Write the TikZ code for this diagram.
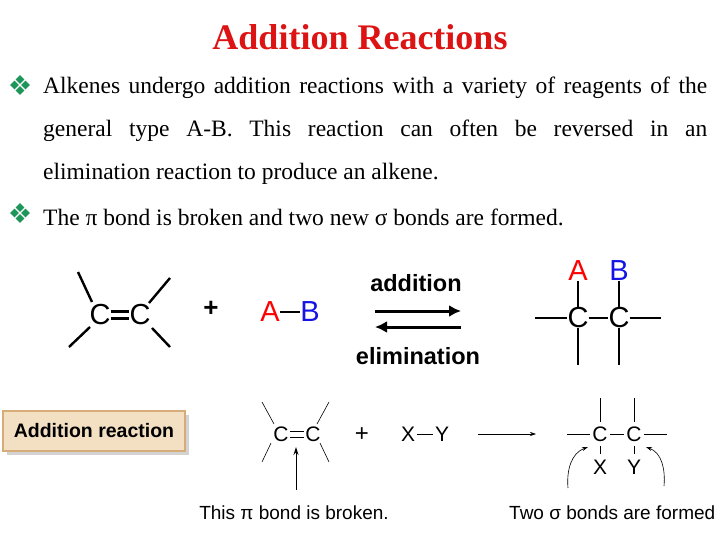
\documentclass[tikz,border=0pt]{standalone}
\usepackage{fontspec}
\setmainfont{Liberation Serif}
\setsansfont{Liberation Sans}
\usetikzlibrary{arrows.meta,shadows}
\definecolor{titlered}{RGB}{220,20,20}
\definecolor{bulgreen}{RGB}{30,150,90}
\definecolor{boxfill}{RGB}{243,224,194}
\definecolor{boxline}{RGB}{214,172,120}
\definecolor{bblue}{RGB}{20,20,230}
\tikzset{
 body/.style={anchor=west,inner sep=0pt,font=\fontsize{23.5}{26}\selectfont},
 bond/.style={line width=2.4pt},
 thin bond/.style={line width=0.6pt},
 big/.style={font=\sffamily\fontsize{29}{32}\selectfont,inner sep=0pt},
 lbl/.style={font=\sffamily\bfseries\fontsize{23.5}{26}\selectfont,inner sep=0pt},
 sm/.style={font=\sffamily\fontsize{21}{24}\selectfont,inner sep=0pt},
}
\newcommand{\bulletmark}[2]{%
 \foreach \dx/\dy in {0/-5.5,0/5.5,-5.5/0,5.5/0}
  \fill[bulgreen] ({#1+\dx},{#2+\dy}) +(0,-4.3) -- +(4.3,0) -- +(0,4.3) -- +(-4.3,0) -- cycle;}
\begin{document}
\begin{tikzpicture}[x=1pt,y=-1pt]
\useasboundingbox (0,0) rectangle (720,540);
\node[font=\bfseries\fontsize{36}{40}\selectfont,text=titlered] (title) at (360,37) {Addition Reactions};
\bulletmark{20}{85}
\bulletmark{20}{213}
\node[body] (l1) at (43,88) {\makebox[664pt][s]{Alkenes undergo addition reactions with a variety of reagents of the}};
\node[body] (l2) at (43,131) {\makebox[664pt][s]{general type A-B. This reaction can often be reversed in an}};
\node[body] (l3) at (43,174) {elimination reaction to produce an alkene.};
\node[body] (l4) at (43,217) {The π bond is broken and two new σ bonds are formed.};
% top reaction
\node[big] (c1) at (100,315) {C};
\node[big] (c2) at (140,315) {C};
\draw[bond] (c1.east) ++(0,-3.5) coordinate (d1) -- (d1 -| c2.west);
\draw[bond] (c1.east) ++(0,3.5) coordinate (d2) -- (d2 -| c2.west);
\coordinate (ul) at (78,272); \coordinate (ll) at (69,347);
\coordinate (ur) at (170,278); \coordinate (lr) at (170,347);
\draw[bond] (ul) -- (92,302); \draw[bond] (ll) -- (90,327);
\draw[bond] (ur) -- (149,303); \draw[bond] (lr) -- (152,328);
\node[big,font=\sffamily\bfseries\fontsize{26}{28}\selectfont] (plus1) at (211,309) {+};
\node[big,text=red] (A1) at (270,312) {A};
\node[big,text=bblue] (B1) at (310,312) {B};
\draw[bond] (A1.east) -- (B1.west);
\coordinate (f1) at (375,311); \coordinate (f2) at (461,311);
\coordinate (r1) at (461,327); \coordinate (r2) at (375,327);
\draw[line width=3pt,-{Latex[length=12pt,width=12pt]}] (f1) -- (f2);
\draw[line width=3pt,-{Latex[length=12pt,width=12pt]}] (r1) -- (r2);
\node[lbl] (add) at (416,283) {addition};
\node[lbl] (elim) at (418,356) {elimination};
\node[big] (p1) at (578,318) {C};
\node[big] (p2) at (619,318) {C};
\node[big,text=red] (pA) at (578,271) {A};
\node[big,text=bblue] (pB) at (619,271) {B};
\draw[bond] (535,318) -- (p1.west); \draw[bond] (p1.east) -- (p2.west); \draw[bond] (p2.east) -- (661,318);
\draw[bond] (pA.south) -- (p1.north); \draw[bond] (pB.south) -- (p2.north);
\draw[bond] (p1.south) -- (578,365); \draw[bond] (p2.south) -- (619,365);
% box
\node[draw=boxline,line width=2pt,fill=boxfill,minimum width=182pt,minimum height=40pt,
  drop shadow={opacity=0.35,shadow xshift=4pt,shadow yshift=-4pt},
  font=\sffamily\bfseries\fontsize{19.5}{22}\selectfont] (box) at (94,431) {Addition reaction};
% bottom reaction
\node[sm] (b1) at (281,434) {C};
\node[sm] (b2) at (313,434) {C};
\draw[thin bond] (b1.east) ++(1,-3) coordinate (e1) -- ([xshift=-1pt]e1 -| b2.west);
\draw[thin bond] (b1.east) ++(1,3) coordinate (e2) -- ([xshift=-1pt]e2 -| b2.west);
\draw[thin bond] (262,402) -- (274,424); \draw[thin bond] (329,402) -- (317,424);
\draw[thin bond] (262,462) -- (271,443); \draw[thin bond] (329,462) -- (320,443);
\coordinate (pi) at (296,490);
\draw[line width=1pt,-{Stealth[length=8pt,width=5pt]}] (pi) -- (296,447);
\node[sm,font=\sffamily\fontsize{24}{26}\selectfont] (plus2) at (362,435) {+};
\node[sm] (X1) at (408,434) {X};
\node[sm] (Y1) at (442,434) {Y};
\draw[thin bond] ([xshift=2pt]X1.east) -- ([xshift=-2pt]Y1.west);
\coordinate (g1) at (478,434); \coordinate (g2) at (536,434);
\draw[thin bond,-{Stealth[length=6pt,width=4pt]}] (g1) -- (g2);
\node[sm] (q1) at (600,434) {C};
\node[sm] (q2) at (634,434) {C};
\draw[thin bond] (567,434) -- ([xshift=-2pt]q1.west);
\draw[thin bond] ([xshift=2pt]q1.east) -- ([xshift=-2pt]q2.west);
\draw[thin bond] ([xshift=2pt]q2.east) -- (667,434);
\draw[thin bond] (600,398) -- (600,422); \draw[thin bond] (634,398) -- (634,422);
\node[sm] (X2) at (600,467) {X};
\node[sm] (Y2) at (634,467) {Y};
\draw[thin bond] (600,446) -- (600,454); \draw[thin bond] (634,446) -- (634,454);
\coordinate (cl) at (568,488); \coordinate (cr) at (664,486);
\draw[thin bond,-{Stealth[length=6pt,width=4pt]}] (cl) to[out=95,in=200] (588,447);
\draw[thin bond,-{Stealth[length=6pt,width=4pt]}] (cr) to[out=85,in=-20] (646,447);
\node[sm,font=\sffamily\fontsize{19}{21}\selectfont] (t1) at (294,513) {This π bond is broken.};
\node[sm,font=\sffamily\fontsize{19}{21}\selectfont,anchor=west] (t2) at (509,513) {Two σ bonds are formed};
\end{tikzpicture}
\end{document}
